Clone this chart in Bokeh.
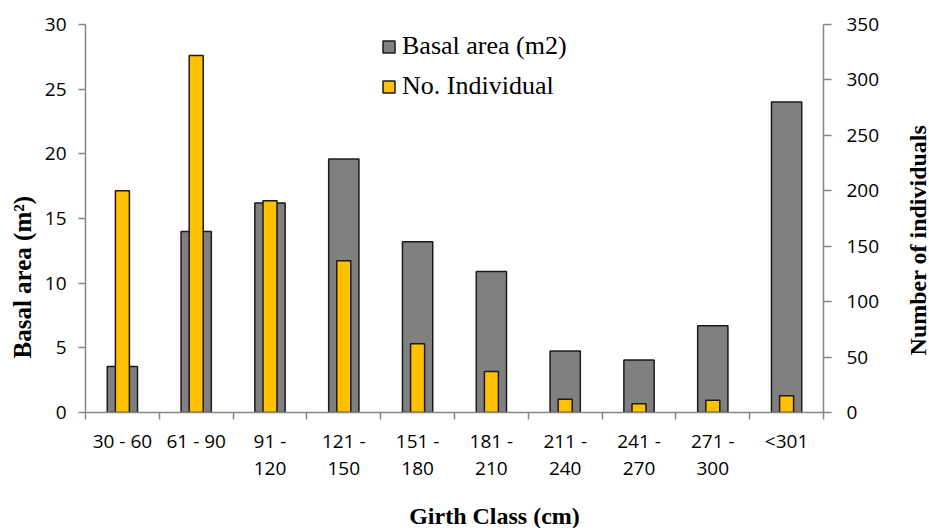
import math
from bokeh.plotting import figure
from bokeh.layouts import row, column
from bokeh.models import (Range1d, LinearAxis, FixedTicker, Legend, LegendItem, Title)
from bokeh.core.properties import value
from bokeh.embed import file_html
from bokeh.resources import INLINE

categories = ["30 - 60", "61 - 90", "91 -\n120", "121 -\n150", "151 -\n180",
              "181 -\n210", "211 -\n240", "241 -\n270", "271 -\n300", "<301"]
basal_area = [3.55, 14.0, 16.2, 19.6, 13.2, 10.9, 4.75, 4.05, 6.7, 24.0]
no_individual = [200, 322, 191, 137, 62, 37, 12, 8, 11, 15]
left_ticks = [0, 5, 10, 15, 20, 25, 30]
right_ticks = [0, 50, 100, 150, 200, 250, 300, 350]
x_title = "Girth Class (cm)"
left_title = "Basal area (m²)"
right_title = "Number of individuals"

n = len(categories)
centers = [i + 0.5 for i in range(n)]
bounds = [float(i) for i in range(n + 1)]

AXIS_GRAY = "#868686"
TICK_FONT = "Open Sans"
SERIF = "Liberation Serif"

MAIN_W, MAIN_H = 904, 504
SIDE_W = 929 - MAIN_W
BOTTOM_H = 528 - MAIN_H

p = figure(width=MAIN_W, height=MAIN_H, output_backend="svg", toolbar_location=None,
           x_range=Range1d(0, n), y_range=Range1d(0, 30),
           min_border_left=83, min_border_right=81, min_border_top=24, min_border_bottom=92)
p.extra_y_ranges = {"right": Range1d(0, 350)}
p.outline_line_color = None
p.xgrid.visible = False
p.ygrid.visible = False

r1 = p.vbar(x=centers, top=basal_area, width=0.41, fill_color="#808080",
            line_color="#1a1a1a", line_width=1.5)
r2 = p.vbar(x=centers, top=no_individual, width=0.19, fill_color="#FFC000",
            line_color="#1a1a1a", line_width=1.5, y_range_name="right")

# x axis
xa = p.xaxis[0]
xa.ticker = FixedTicker(ticks=centers, minor_ticks=bounds)
xa.major_label_overrides = {c: lab for c, lab in zip(centers, categories)}
xa.major_tick_line_color = None
xa.minor_tick_line_color = AXIS_GRAY
xa.minor_tick_in = 0
xa.minor_tick_out = 7
xa.minor_tick_line_width = 1.5
xa.axis_line_color = AXIS_GRAY
xa.axis_line_width = 1.5
xa.major_label_text_font = TICK_FONT
xa.major_label_text_font_size = "19px"
xa.major_label_text_color = "#000000"
xa.major_label_text_line_height = 1.05
xa.major_label_standoff = 8

# left axis
ya = p.yaxis[0]
ya.ticker = FixedTicker(ticks=left_ticks)
ya.minor_tick_line_color = None
ya.major_tick_in = 0
ya.major_tick_out = 7
ya.major_tick_line_color = AXIS_GRAY
ya.major_tick_line_width = 1.5
ya.axis_line_color = AXIS_GRAY
ya.axis_line_width = 1.5
ya.major_label_text_font = TICK_FONT
ya.major_label_text_font_size = "19px"
ya.major_label_text_color = "#000000"
ya.major_label_standoff = 12

# right axis
ra = LinearAxis(y_range_name="right", ticker=FixedTicker(ticks=right_ticks))
ra.minor_tick_line_color = None
ra.major_tick_in = 0
ra.major_tick_out = 8
ra.major_tick_line_color = AXIS_GRAY
ra.major_tick_line_width = 1.5
ra.axis_line_color = AXIS_GRAY
ra.axis_line_width = 1.5
ra.major_label_text_font = TICK_FONT
ra.major_label_text_font_size = "19px"
ra.major_label_text_color = "#000000"
ra.major_label_standoff = 15
p.add_layout(ra, "right")

# left axis title
tl = Title(text=left_title, align="left", offset=54,
           text_font=SERIF, text_font_style="bold", text_font_size="25px",
           text_color="#000000", standoff=12)
p.add_layout(tl, "left")

legend = Legend(items=[LegendItem(label="Basal area (m2)", renderers=[r1]),
                       LegendItem(label="No. Individual", renderers=[r2])],
                location=(296, 311), padding=0, margin=0, spacing=10,
                glyph_width=15, glyph_height=15, label_standoff=6,
                label_text_font=SERIF, label_text_font_size="26px",
                label_text_color="#000000",
                border_line_color=None, background_fill_alpha=0)
p.add_layout(legend)


def blank(w, h):
    f = figure(width=w, height=h, output_backend="svg", toolbar_location=None,
               x_range=Range1d(0, w), y_range=Range1d(0, h),
               x_axis_location=None, y_axis_location=None, min_border=0)
    f.outline_line_color = None
    f.xgrid.visible = False
    f.ygrid.visible = False
    return f


# right axis title (reads bottom to top, like the reference)
pr = blank(SIDE_W, MAIN_H)
pr.text(x=[SIDE_W / 2 + 0.5], y=[MAIN_H - 280], text=[right_title], angle=math.pi / 2,
        text_font=value(SERIF), text_font_style="bold", text_font_size="24px",
        text_color="#000000", text_align="center", text_baseline="middle")

# x axis title
pb = blank(MAIN_W + SIDE_W, BOTTOM_H)
pb.text(x=[494], y=[BOTTOM_H / 2 + 1], text=[x_title],
        text_font=value(SERIF), text_font_style="bold", text_font_size="24px",
        text_color="#000000", text_align="center", text_baseline="middle")

layout = column(row(p, pr, spacing=0), pb, spacing=0)
open("out.html", "w").write(file_html(layout, INLINE))
